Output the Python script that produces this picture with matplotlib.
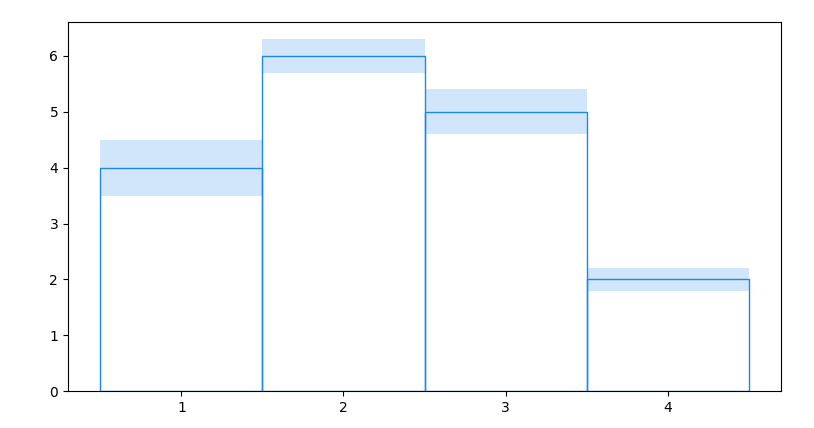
import matplotlib
matplotlib.use("Agg")
import matplotlib.pyplot as plt
import numpy as np

edges = [0.5, 1.5, 2.5, 3.5, 4.5]
centers = [1, 2, 3, 4]
values = [4, 6, 5, 2]
upper = [4.5, 6.3, 5.4, 2.2]
lower = [3.5, 5.7, 4.6, 1.8]
xticks = [1, 2, 3, 4]

fig = plt.figure(figsize=(8.14, 4.28), dpi=100)
ax = fig.add_axes([0.0835, 0.0864, 0.876, 0.863])
ax.stairs(upper, edges, baseline=lower, fill=True, color='#d1e6fb', linewidth=0)
ax.bar(centers, values, width=1.0, facecolor='none', edgecolor='#1e88e5', linewidth=1)
ax.set_xticks(xticks)
ax.set_ylim(0, None)
fig.savefig("out.png", dpi=100)
